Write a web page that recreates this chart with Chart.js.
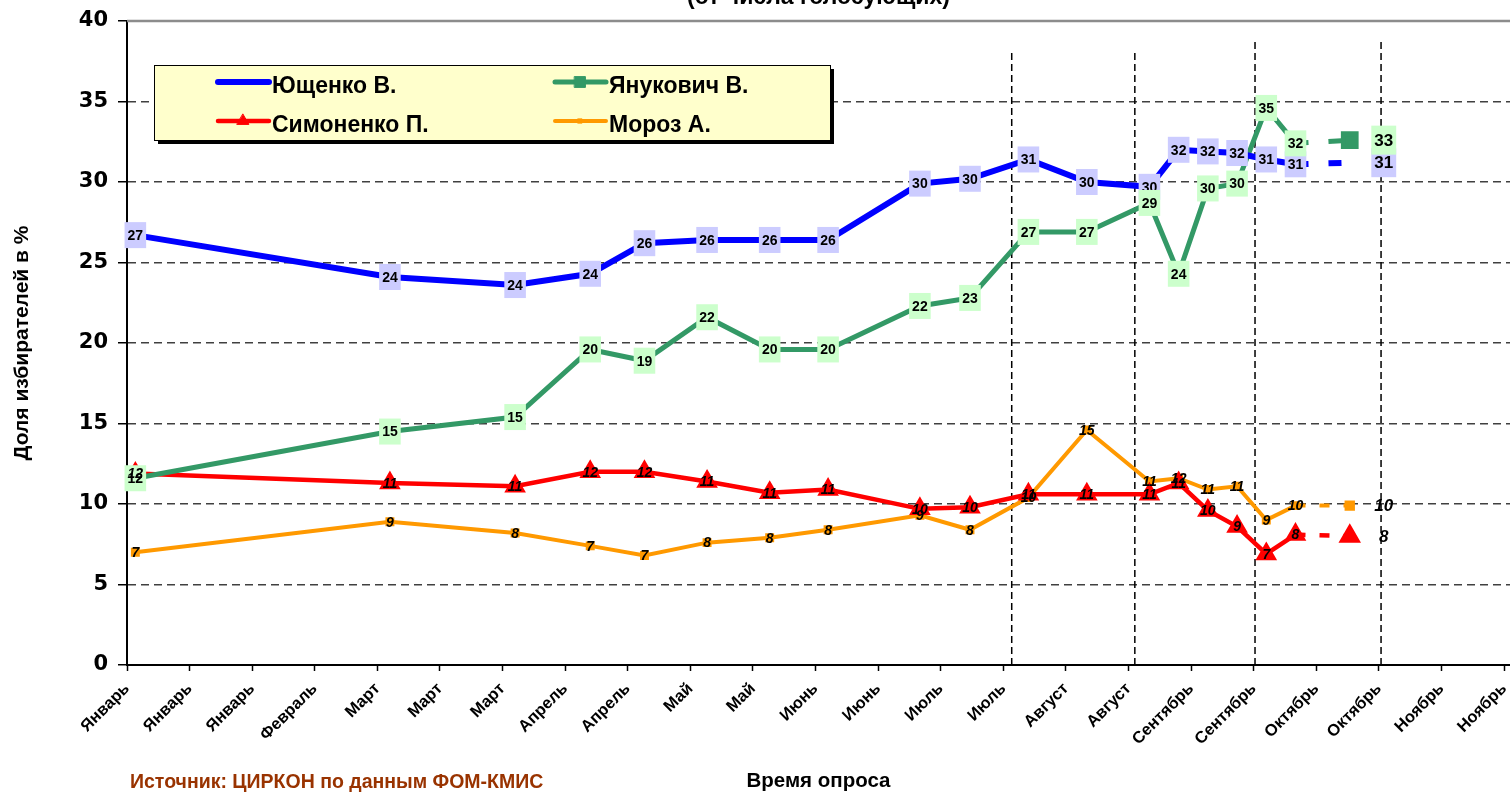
<!DOCTYPE html>
<html lang="ru">
<head>
<meta charset="UTF-8">
<title>Рейтинг кандидатов (от числа голосующих)</title>
<script src="https://cdn.jsdelivr.net/npm/chart.js"></script>
<style>
    body { margin: 0; background: #fff; overflow: hidden; }
    .janela { position: relative; width: 1510px; height: 792px; overflow: hidden; }
    .grafico { position: absolute; left: 0; top: -16px; }
    .fonte {
        position: absolute; left: 130px; top: 770px;
        font: bold 19.5px "Liberation Sans", Arial, sans-serif; color: #993300;
    }
</style>
</head>
<body>

<div class="janela">
    <div class="grafico"><canvas id="grafico" width="1510" height="808"></canvas></div>
    <div class="fonte">Источник: ЦИРКОН по данным ФОМ-КМИС</div>
</div>

<script>
    // дни опросов (номер дня от 1 января 2004)
    const dniOprosa = [2, 63, 93, 111, 124, 139, 154, 168, 190, 202, 216, 230, 245, 252, 259, 266, 273, 280];

    const yushchenko = [26.7, 24.1, 23.6, 24.3, 26.2, 26.4, 26.4, 26.4, 29.9, 30.2, 31.4, 30.0, 29.7, 32.0, 31.9, 31.8, 31.4, 31.1];
    const yanukovych = [11.6, 14.5, 15.4, 19.6, 18.9, 21.6, 19.6, 19.6, 22.3, 22.8, 26.9, 26.9, 28.7, 24.3, 29.6, 29.9, 34.6, 32.4];
    const symonenko  = [11.9, 11.3, 11.1, 12.0, 12.0, 11.4, 10.7, 10.9, 9.7, 9.8, 10.6, 10.6, 10.6, 11.3, 9.6, 8.6, 6.9, 8.1];
    const moroz      = [7.0, 8.9, 8.2, 7.4, 6.8, 7.6, 7.9, 8.4, 9.3, 8.4, 10.4, 14.6, 11.4, 11.6, 10.9, 11.1, 9.0, 9.9];

    // прогноз
    const dniPrognoza = [280, 293];
    const yushchenkoPrognoz = [31.1, 31.2];
    const yanukovychPrognoz = [32.4, 32.6];
    const symonenkoPrognoz  = [8.1, 8.0];
    const morozPrognoz      = [9.9, 9.9];

    // вертикальные пунктирные линии
    const dniLinii = [212, 241.5, 270.3, 300.5];
    const verhLinii = [38.2, 38.2, 38.7, 38.7];

    // подписи оси X
    const dniTikov = [0, 15, 30, 45, 60, 75, 90, 105, 120, 135, 150, 165, 180, 195, 210, 225, 240, 255, 270, 285, 300, 315, 330];
    const mesyatsy = ['Январь', 'Январь', 'Январь', 'Февраль', 'Март', 'Март', 'Март', 'Апрель', 'Апрель', 'Май', 'Май',
        'Июнь', 'Июнь', 'Июль', 'Июль', 'Август', 'Август', 'Сентябрь', 'Сентябрь', 'Октябрь', 'Октябрь', 'Ноябрь', 'Ноябрь'];

    const FONT = '"Liberation Sans", Arial, sans-serif';

    function serie(xs, ys) {
        return xs.map((x, i) => ({ x: x, y: ys[i] }));
    }

    // подписи значений
    const rotulos = {
        id: 'rotulos',
        afterDatasetsDraw(chart) {
            const ctx = chart.ctx;
            chart.data.datasets.forEach((ds, i) => {
                const r = ds.rotulo;
                if (!r) return;
                const meta = chart.getDatasetMeta(i);
                meta.data.forEach((pt, j) => {
                    if (r.soUltimo && j !== meta.data.length - 1) return;
                    const texto = String(Math.round(ds.data[j].y));
                    const x = pt.x + (r.dx || 0);
                    const y = pt.y;
                    ctx.save();
                    ctx.font = r.fonte;
                    const w = ctx.measureText(texto).width;
                    if (r.fundo) {
                        ctx.fillStyle = r.fundo;
                        ctx.fillRect(x - w / 2 - 3, y - r.alt / 2, w + 6, r.alt);
                    }
                    ctx.fillStyle = '#000';
                    ctx.textAlign = 'center';
                    ctx.textBaseline = 'middle';
                    ctx.fillText(texto, x, y + 1);
                    ctx.restore();
                });
            });
        }
    };

    // легенда в желтой рамке
    const legenda = {
        id: 'legenda',
        afterDraw(chart) {
            const { ctx, chartArea } = chart;
            const bx = chartArea.left + 27, by = chartArea.top + 44, bw = 676, bh = 75;
            ctx.save();
            ctx.fillStyle = '#000';
            ctx.fillRect(bx + 4, by + 4, bw, bh);
            ctx.fillStyle = '#ffffcc';
            ctx.fillRect(bx, by, bw, bh);
            ctx.lineWidth = 1;
            ctx.strokeStyle = '#000';
            ctx.strokeRect(bx + 0.5, by + 0.5, bw, bh);

            const colX = [64, 401], linY = [17, 56];
            chart.data.datasets.slice(0, 4).forEach((ds, i) => {
                const x = bx + colX[i % 2], y = by + linY[Math.floor(i / 2)];
                ctx.strokeStyle = ds.borderColor;
                ctx.lineWidth = ds.borderWidth;
                ctx.lineCap = 'round';
                ctx.beginPath();
                ctx.moveTo(x, y);
                ctx.lineTo(x + 51, y);
                ctx.stroke();
                if (ds.pointRadius > 0 && Chart.helpers && Chart.helpers.drawPoint) {
                    ctx.fillStyle = ds.borderColor;
                    ctx.lineWidth = 1;
                    Chart.helpers.drawPoint(ctx, { pointStyle: ds.pointStyle, radius: ds.pointRadius * 0.85, rotation: 0, borderWidth: 1 }, x + 25, y);
                }
                ctx.fillStyle = '#000';
                ctx.font = 'bold 23px ' + FONT;
                ctx.textBaseline = 'middle';
                ctx.fillText(ds.label, x + 54, y + 5);
            });
            ctx.restore();
        }
    };

    // верхняя граница области построения
    const ramka = {
        id: 'ramka',
        beforeDatasetsDraw(chart) {
            const { ctx, chartArea } = chart;
            ctx.save();
            ctx.strokeStyle = '#8c8c8c';
            ctx.lineWidth = 2.5;
            ctx.beginPath();
            ctx.moveTo(chartArea.left, chartArea.top);
            ctx.lineTo(chartArea.right, chartArea.top);
            ctx.stroke();
            ctx.restore();
        }
    };

    const rotuloAzul = { fundo: '#ccccff', fonte: 'bold 14px ' + FONT, alt: 26 };
    const rotuloVerde = { fundo: '#ccffcc', fonte: 'bold 14px ' + FONT, alt: 26 };
    const rotuloItal = { fonte: 'italic bold 14px ' + FONT };

    const datasets = [
        {
            label: 'Ющенко В.', data: serie(dniOprosa, yushchenko),
            borderColor: '#0000ff', borderWidth: 6, pointRadius: 0,
            rotulo: rotuloAzul
        },
        {
            label: 'Янукович В.', data: serie(dniOprosa, yanukovych),
            borderColor: '#339966', borderWidth: 5, pointStyle: 'rect', pointRadius: 9,
            pointBackgroundColor: '#339966', pointBorderColor: '#339966',
            rotulo: rotuloVerde
        },
        {
            label: 'Симоненко П.', data: serie(dniOprosa, symonenko),
            borderColor: '#ff0000', borderWidth: 4.5, pointStyle: 'triangle', pointRadius: 8,
            pointBackgroundColor: '#ff0000', pointBorderColor: '#ff0000',
            rotulo: rotuloItal
        },
        {
            label: 'Мороз А.', data: serie(dniOprosa, moroz),
            borderColor: '#ff9900', borderWidth: 4, pointStyle: 'rect', pointRadius: 3.5,
            pointBackgroundColor: '#ff9900', pointBorderColor: '#ff9900',
            rotulo: rotuloItal
        },
        {
            label: 'Ющенко прогноз', data: serie(dniPrognoza, yushchenkoPrognoz),
            borderColor: '#0000ff', borderWidth: 6, borderDash: [13, 20], pointRadius: 0,
            rotulo: { fundo: '#ccccff', fonte: 'bold 17px ' + FONT, alt: 29, soUltimo: true, dx: 34 }
        },
        {
            label: 'Янукович прогноз', data: serie(dniPrognoza, yanukovychPrognoz),
            borderColor: '#339966', borderWidth: 5, borderDash: [13, 20], pointStyle: 'rect', pointRadius: [0, 9],
            pointBackgroundColor: '#339966', pointBorderColor: '#339966',
            rotulo: { fundo: '#ccffcc', fonte: 'bold 17px ' + FONT, alt: 29, soUltimo: true, dx: 34 }
        },
        {
            label: 'Симоненко прогноз', data: serie(dniPrognoza, symonenkoPrognoz),
            borderColor: '#ff0000', borderWidth: 4.5, borderDash: [10, 14], pointStyle: 'triangle', pointRadius: [0, 8.5],
            pointBackgroundColor: '#ff0000', pointBorderColor: '#ff0000',
            rotulo: { fonte: 'italic bold 17px ' + FONT, soUltimo: true, dx: 34 }
        },
        {
            label: 'Мороз прогноз', data: serie(dniPrognoza, morozPrognoz),
            borderColor: '#ff9900', borderWidth: 4, borderDash: [10, 14], pointStyle: 'rect', pointRadius: [0, 4.5],
            pointBackgroundColor: '#ff9900', pointBorderColor: '#ff9900',
            rotulo: { fonte: 'italic bold 17px ' + FONT, soUltimo: true, dx: 34 }
        }
    ];

    dniLinii.forEach((d, i) => {
        datasets.push({
            label: 'линия ' + (i + 1), data: [{ x: d, y: 0 }, { x: d, y: verhLinii[i] }],
            borderColor: '#000', borderWidth: 1.5, borderDash: [7, 4], pointRadius: 0
        });
    });

    const config = {
        type: 'line',
        data: { datasets: datasets },
        options: {
            responsive: false,
            animation: false,
            devicePixelRatio: 1,
            layout: { padding: 0, autoPadding: false },
            plugins: {
                legend: { display: false },
                tooltip: { enabled: false },
                title: {
                    display: true, fullSize: false,
                    text: '(от числа голосующих)',
                    font: { size: 23, weight: 'bold', family: FONT },
                    color: '#000',
                    padding: { top: 0, bottom: 9.4 }
                }
            },
            scales: {
                x: {
                    type: 'linear', min: 0, max: 331.4,
                    afterBuildTicks: (s) => { s.ticks = dniTikov.map(v => ({ value: v })); },
                    afterFit: (s) => { s.height = 127; s.paddingLeft = 0; s.paddingRight = 0; },
                    ticks: {
                        autoSkip: false, minRotation: 45, maxRotation: 45, padding: 8,
                        font: { size: 16.5, weight: 'bold', family: FONT }, color: '#000',
                        callback: (v, i) => mesyatsy[i]
                    },
                    grid: { drawOnChartArea: false, tickLength: 6, tickColor: '#000', tickWidth: 1.5 },
                    border: { color: '#000', width: 2 },
                    title: {
                        display: true, text: 'Время опроса', color: '#000',
                        font: { size: 20.5, weight: 'bold', family: FONT, lineHeight: 1 },
                        padding: { top: 0, bottom: 0 }
                    }
                },
                y: {
                    min: 0, max: 40,
                    afterFit: (s) => { s.width = 127; },
                    ticks: {
                        stepSize: 5, padding: 10, color: '#000',
                        font: { size: 21, weight: 'bold', family: '"DejaVu Sans", Verdana, sans-serif' }
                    },
                    grid: {
                        color: (c) => (c.tick.value === 0 || c.tick.value === 40) ? 'rgba(0,0,0,0)' : '#404040',
                        lineWidth: 1.5, tickLength: 9, tickColor: '#000', tickWidth: 1.5
                    },
                    border: { color: '#000', width: 2, dash: [8, 5] },
                    title: {
                        display: true, text: 'Доля избирателей в %', color: '#000',
                        font: { size: 21, weight: 'bold', family: FONT },
                        padding: { top: 10, bottom: 0 }
                    }
                }
            }
        },
        plugins: [ramka, rotulos, legenda]
    };

    let myChart = new Chart(document.getElementById('grafico'), config);
</script>
</body>
</html>
